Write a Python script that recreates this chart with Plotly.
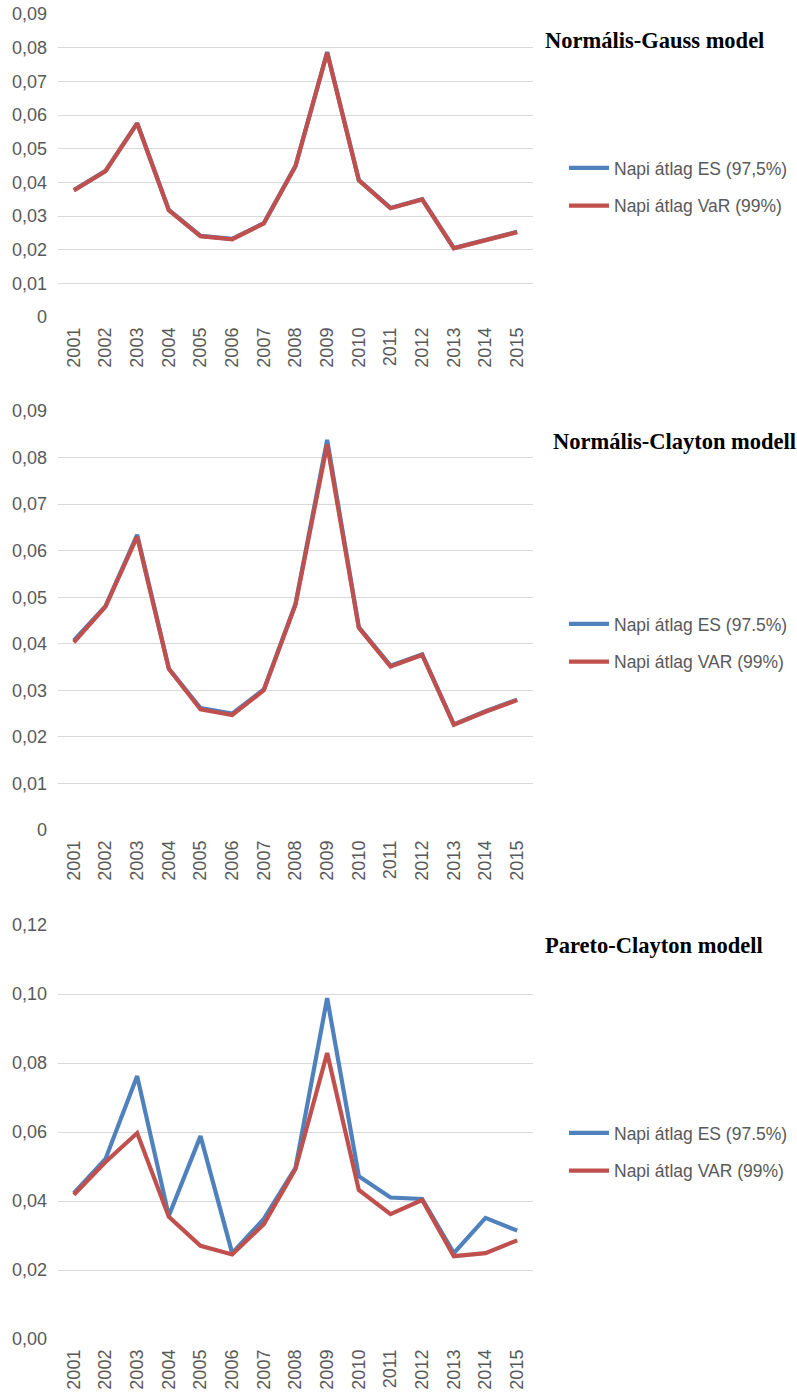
import plotly.graph_objects as go

W, H = 797, 1396

years = [str(y) for y in range(2001, 2016)]

# Normális-Gauss model
gauss_es = [0.0377, 0.0434, 0.0576, 0.0318, 0.0241, 0.0232, 0.0279, 0.0449,
            0.0787, 0.0407, 0.0324, 0.0350, 0.0205, 0.0229, 0.0253]
gauss_var = [0.0376, 0.0433, 0.0575, 0.0317, 0.0240, 0.0231, 0.0278, 0.0448,
             0.0785, 0.0406, 0.0323, 0.0349, 0.0204, 0.0229, 0.0252]

# Normális-Clayton modell
clayton_es = [0.0407, 0.0481, 0.0634, 0.0347, 0.0262, 0.0250, 0.0302, 0.0486,
              0.0838, 0.0436, 0.0353, 0.0377, 0.0227, 0.0255, 0.0280]
clayton_var = [0.0403, 0.0480, 0.0630, 0.0346, 0.0259, 0.0247, 0.0300, 0.0484,
               0.0828, 0.0434, 0.0351, 0.0376, 0.0226, 0.0254, 0.0279]

# Pareto-Clayton modell
pareto_es = [0.0423, 0.0522, 0.0762, 0.0357, 0.0588, 0.0249, 0.0348, 0.0496,
             0.0988, 0.0472, 0.0410, 0.0406, 0.0249, 0.0351, 0.0314]
pareto_var = [0.0418, 0.0513, 0.0597, 0.0354, 0.0270, 0.0245, 0.0333, 0.0493,
              0.0829, 0.0432, 0.0362, 0.0403, 0.0240, 0.0249, 0.0286]

ticks_009 = [0, 0.01, 0.02, 0.03, 0.04, 0.05, 0.06, 0.07, 0.08, 0.09]
ticks_009_text = ["0", "0,01", "0,02", "0,03", "0,04", "0,05", "0,06", "0,07", "0,08", "0,09"]
ticks_012 = [0, 0.02, 0.04, 0.06, 0.08, 0.10, 0.12]
ticks_012_text = ["0,00", "0,02", "0,04", "0,06", "0,08", "0,10", "0,12"]

titles = ["Normális-Gauss model", "Normális-Clayton modell", "Pareto-Clayton modell"]
es_names = ["Napi átlag ES (97,5%)", "Napi átlag ES (97.5%)", "Napi átlag ES (97.5%)"]
var_names = ["Napi átlag VaR (99%)", "Napi átlag VAR (99%)", "Napi átlag VAR (99%)"]

BLUE = "#4F81BD"
RED = "#C0504D"
GRID = "#D9D9D9"
TXT = "#595959"
SANS = "Liberation Sans, Arial, sans-serif"
SERIF = "Liberation Serif, Times New Roman, serif"

# pixel layout of each panel: (top, bottom) of plot area, legend centre, title centre/left
panels = [
    dict(top=14, bottom=317, leg=187, title_y=41, title_x=543),
    dict(top=411, bottom=830, leg=643, title_y=442, title_x=551),
    dict(top=925, bottom=1339, leg=1152, title_y=945, title_x=543),
]
x_left, x_right = 58, 533

series = [(gauss_es, gauss_var), (clayton_es, clayton_var), (pareto_es, pareto_var)]
ranges = [[0, 0.09], [0, 0.09], [0, 0.12]]
tickvals = [ticks_009, ticks_009, ticks_012]
ticktexts = [ticks_009_text, ticks_009_text, ticks_012_text]

fig = go.Figure()
layout = dict(
    width=W, height=H,
    margin=dict(l=0, r=0, t=0, b=0, autoexpand=False),
    paper_bgcolor="white", plot_bgcolor="white",
    showlegend=True,
    annotations=[],
)

for i, (es, var) in enumerate(series):
    n = "" if i == 0 else str(i + 1)
    leg = "legend" if i == 0 else f"legend{i + 1}"
    p = panels[i]
    fig.add_trace(go.Scatter(
        x=years, y=es, name=es_names[i], mode="lines",
        line=dict(color=BLUE, width=4.2), xaxis=f"x{n}", yaxis=f"y{n}",
        legend=leg, legendgroup=f"es{i}"))
    fig.add_trace(go.Scatter(
        x=years, y=var, name=var_names[i], mode="lines",
        line=dict(color=RED, width=4.2), xaxis=f"x{n}", yaxis=f"y{n}",
        legend=leg, legendgroup=f"var{i}"))

    layout[f"xaxis{n}"] = dict(
        domain=[x_left / W, x_right / W], anchor=f"y{n}",
        type="category", range=[-0.5, 14.5],
        showgrid=False, showline=False, zeroline=False,
        tickangle=-90, ticks="", ticklabelstandoff=6,
        tickfont=dict(family=SANS, size=18, color=TXT),
    )
    layout[f"yaxis{n}"] = dict(
        domain=[1 - p["bottom"] / H, 1 - p["top"] / H], anchor=f"x{n}",
        range=ranges[i], tickvals=tickvals[i], ticktext=ticktexts[i],
        showgrid=True, gridcolor=GRID, gridwidth=1.3,
        zeroline=False, showline=False, ticks="", ticklabelstandoff=10,
        tickfont=dict(family=SANS, size=18, color=TXT),
    )
    layout[leg] = dict(
        x=564 / W, y=1 - p["leg"] / H, xanchor="left", yanchor="middle",
        xref="paper", yref="paper",
        font=dict(family=SANS, size=17.5, color=TXT),
        bgcolor="rgba(0,0,0,0)", traceorder="grouped", tracegroupgap=12,
        itemwidth=40,
    )
    layout["annotations"].append(dict(
        x=p["title_x"] / W, y=1 - p["title_y"] / H, xref="paper", yref="paper",
        xanchor="left", yanchor="middle", showarrow=False,
        text=f"<b>{titles[i]}</b>",
        font=dict(family=SERIF, size=22.5, color="black"),
    ))

fig.update_layout(**layout)
fig.write_html("out.html")
